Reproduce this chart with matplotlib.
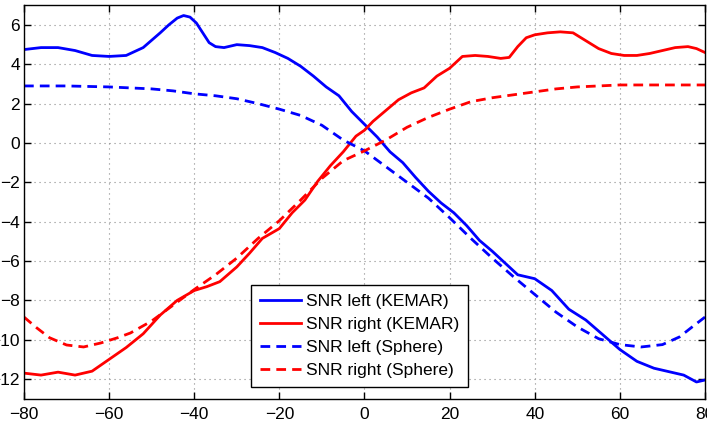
import matplotlib
matplotlib.use("Agg")
import matplotlib.pyplot as plt

plt.rcParams['font.family'] = ['Liberation Sans', 'DejaVu Sans']

# SNR left (KEMAR)
left_kemar_x = [-80, -76, -72, -68, -64, -60, -56, -52, -48, -46, -44, -42.5, -41, -39.5, -38, -36.5, -35,
                -33, -30, -27, -24, -21, -18, -15, -12, -9, -6, -3, 0, 3, 6, 9, 12, 15, 18, 21, 24, 27,
                30, 33, 36, 40, 44, 48, 52, 56, 60, 64, 68, 72, 75, 78, 80]
left_kemar_y = [4.75, 4.85, 4.85, 4.7, 4.45, 4.4, 4.45, 4.85, 5.6, 6.0, 6.35, 6.48, 6.4, 6.1, 5.6, 5.1,
                4.9, 4.85, 5.0, 4.95, 4.85, 4.6, 4.3, 3.9, 3.4, 2.85, 2.4, 1.6, 0.95, 0.3, -0.45, -1.0,
                -1.75, -2.45, -3.05, -3.55, -4.2, -4.95, -5.5, -6.1, -6.7, -6.9, -7.5, -8.45, -9.0,
                -9.75, -10.5, -11.1, -11.45, -11.65, -11.8, -12.15, -12.05]

# SNR right (KEMAR)
right_kemar_x = [-80, -76, -72, -68, -64, -60, -56, -52, -48, -44, -40, -37, -34, -30, -27, -24, -20, -17,
                 -14, -11, -8, -5, -2, 0, 2, 5, 8, 11, 14, 17, 20, 23, 26, 29, 32, 34, 36, 38, 40, 43,
                 46, 49, 52, 55, 58, 61, 64, 67, 70, 73, 76, 78, 80]
right_kemar_y = [-11.7, -11.8, -11.65, -11.8, -11.6, -11.0, -10.4, -9.7, -8.75, -8.0, -7.5, -7.3, -7.05,
                 -6.3, -5.6, -4.85, -4.35, -3.55, -2.9, -1.95, -1.15, -0.45, 0.35, 0.65, 1.1, 1.65, 2.2,
                 2.55, 2.8, 3.4, 3.8, 4.4, 4.45, 4.4, 4.3, 4.35, 4.9, 5.35, 5.5, 5.6, 5.65, 5.6, 5.2,
                 4.8, 4.55, 4.45, 4.45, 4.55, 4.7, 4.85, 4.9, 4.8, 4.6]

# SNR left (Sphere)
left_sphere_x = [-80, -70, -60, -50, -45, -40, -35, -30, -25, -20, -15, -10, -5, 0, 5, 10, 15, 20, 25,
                 30, 35, 40, 45, 50, 55, 60, 65, 70, 74, 77, 80]
left_sphere_y = [2.9, 2.9, 2.85, 2.75, 2.65, 2.5, 2.4, 2.25, 2.0, 1.72, 1.4, 0.9, 0.15, -0.4, -1.2, -2.0,
                 -2.8, -3.8, -4.85, -5.85, -6.8, -7.7, -8.6, -9.35, -9.95, -10.25, -10.37, -10.25,
                 -9.86, -9.35, -8.85]

# SNR right (Sphere)
right_sphere_x = [-80, -77, -74, -70, -66, -62, -58, -55, -50, -45, -40, -35, -30, -25, -20, -15, -10,
                  -5, 0, 5, 10, 15, 20, 25, 30, 35, 40, 45, 50, 60, 70, 80]
right_sphere_y = [-8.85, -9.4, -9.9, -10.27, -10.37, -10.17, -9.9, -9.66, -9.05, -8.25, -7.45, -6.7,
                  -5.85, -4.85, -3.95, -2.9, -1.8, -0.9, -0.4, 0.15, 0.8, 1.3, 1.72, 2.1, 2.3, 2.45,
                  2.6, 2.75, 2.85, 2.95, 2.95, 2.95]

labels = ['SNR left (KEMAR)', 'SNR right (KEMAR)', 'SNR left (Sphere)', 'SNR right (Sphere)']
x_ticks = [-80, -60, -40, -20, 0, 20, 40, 60, 80]
y_ticks = [6, 4, 2, 0, -2, -4, -6, -8, -10, -12]

W, H = 707, 426
fig = plt.figure(figsize=(W / 100, H / 100), dpi=100)
ax = fig.add_axes([24 / W, 1 - 398.7 / H, (705 - 24) / W, (398.7 - 5.3) / H])

lw = 2.0
dash = (0, (3.5, 2.2))
ax.plot(left_kemar_x, left_kemar_y, color='#0000ff', lw=lw, label=labels[0])
ax.plot(right_kemar_x, right_kemar_y, color='#ff0000', lw=lw, label=labels[1])
ax.plot(left_sphere_x, left_sphere_y, color='#0000ff', lw=lw, linestyle=dash, label=labels[2])
ax.plot(right_sphere_x, right_sphere_y, color='#ff0000', lw=lw, linestyle=dash, label=labels[3])

ax.set_xlim(-80, 80)
ax.set_ylim(-13, 7)
ax.set_xticks(x_ticks)
ax.set_yticks(y_ticks)
ax.tick_params(direction='in', length=5, width=1, top=True, right=True, labelsize=12.5, pad=6)
ax.tick_params(axis='y', pad=3)
ax.grid(True, color='#8a8a8a', linestyle=(0, (1, 3.5)), lw=0.8)
for s in ax.spines.values():
    s.set_linewidth(1.0)

leg = ax.legend(loc='lower right', bbox_to_anchor=(0.652, 0.03), fontsize=12.5, frameon=True,
                fancybox=False, framealpha=1, edgecolor='black', handlelength=2.35,
                handletextpad=0.3, labelspacing=0.45, borderpad=0.5, borderaxespad=0)
leg.get_frame().set_linewidth(1.0)

fig.savefig('out.png', dpi=100)
